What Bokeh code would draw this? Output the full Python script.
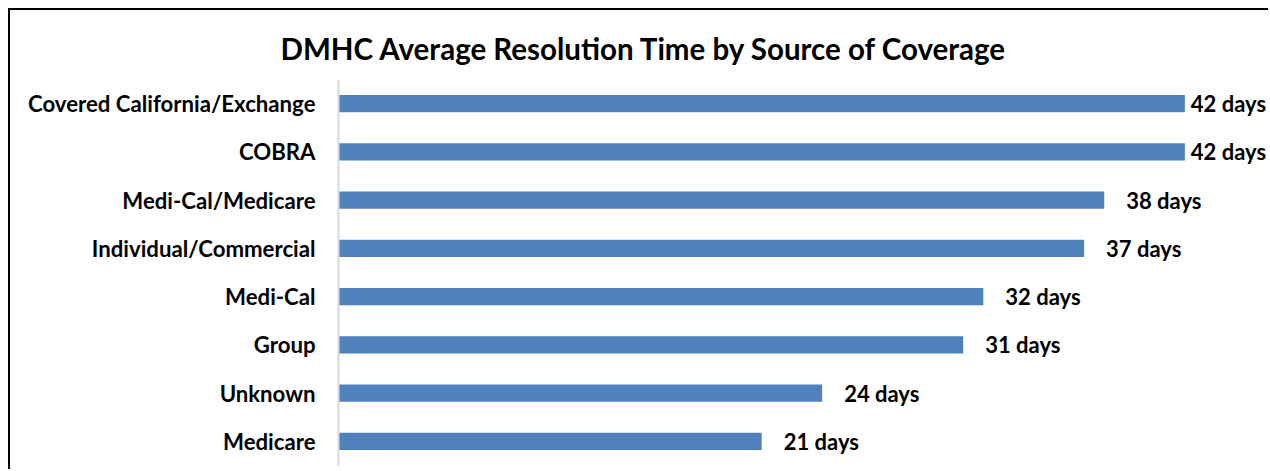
from bokeh.plotting import figure
from bokeh.models import ColumnDataSource, Range1d, FactorRange
from bokeh.core.properties import value
from bokeh.embed import file_html
from bokeh.resources import INLINE

title_text = "DMHC Average Resolution Time by Source of Coverage"
categories = ["Covered California/Exchange", "COBRA", "Medi-Cal/Medicare",
              "Individual/Commercial", "Medi-Cal", "Group", "Unknown", "Medicare"]
days = [42, 42, 38, 37, 32, 31, 24, 21]
label_suffix = " days"

FONT = "Lato"
vmax = max(days)
src = ColumnDataSource(dict(
    cat=categories,
    val=days,
    lab=[f"{v}{label_suffix}" for v in days],
    off=[6 if v == vmax else 22 for v in days],
))

p = figure(width=1260, height=461, output_backend="svg", toolbar_location=None,
           y_range=FactorRange(*reversed(categories)), x_range=Range1d(0, 46.25),
           min_border_left=328, min_border_right=0, min_border_top=69, min_border_bottom=6,
           title=title_text,
           styles={"margin-left": "8px", "margin-top": "8px",
                   "border-left": "2px solid black", "border-top": "2px solid black"})

p.hbar(y="cat", right="val", height=0.36, source=src, fill_color="#4f81bd", line_color=None)
p.text(x="val", y="cat", text="lab", source=src, x_offset="off",
       text_align="left", text_baseline="middle", text_font_size="22px",
       text_font_style="bold", text_font=value(FONT), text_color="black")

p.title.align = "left"
p.title.offset = -58
p.title.text_font = FONT
p.title.text_font_size = "29.5px"
p.title.text_font_style = "bold"
p.title.text_color = "black"
p.title.standoff = 28

p.xaxis.visible = False
p.xgrid.visible = False
p.ygrid.visible = False
p.outline_line_color = None
yax = p.yaxis[0]
yax.axis_line_color = "#d9d9d9"
yax.axis_line_width = 2
yax.major_tick_line_color = None
yax.minor_tick_line_color = None
yax.major_label_standoff = 17
yax.major_label_text_font = FONT
yax.major_label_text_font_style = "bold"
yax.major_label_text_font_size = "22.2px"
yax.major_label_text_color = "black"

open("out.html", "w").write(file_html(p, INLINE))
